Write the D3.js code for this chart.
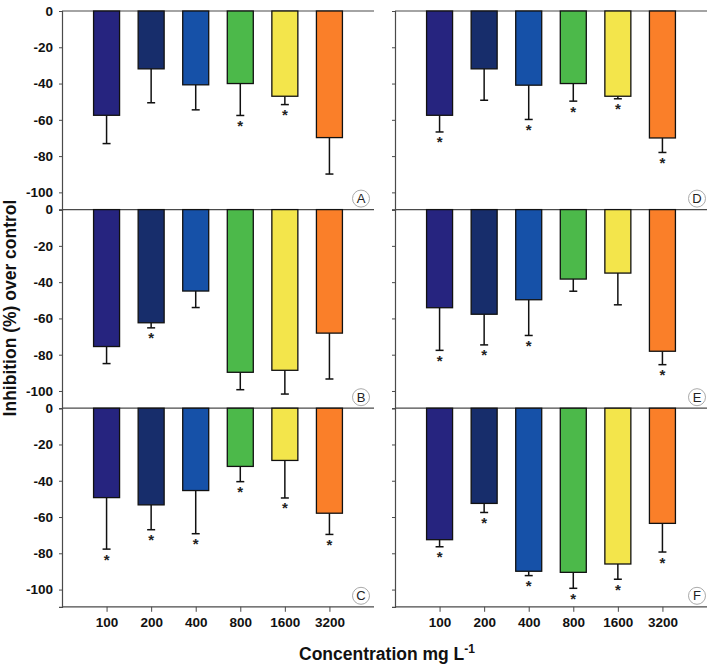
<!DOCTYPE html>
<html><head><meta charset="utf-8">
<script src="https://cdn.jsdelivr.net/npm/d3@7"></script>
<style>
html,body{margin:0;padding:0;background:#fff;}
svg text{font-family:"Liberation Sans",Arial,sans-serif;}
</style></head>
<body>
<svg id="chart" width="714" height="664"></svg>
<script>
const concentrations = ["100","200","400","800","1600","3200"];
const panelLabels = ["A","B","C","D","E","F"];
const barColors = ["#26247f","#172d6b","#1651a8","#4cb94a","#f3e54b","#fa7f29"];
const yTicks = [0,-20,-40,-60,-80,-100];

const meansA = [-57.5,-31.9,-40.7,-40.0,-47.0,-69.8];
const sdA    = [15.6,18.7,13.8,17.6,4.6,20.1];
const starsA = [0,0,0,1,1,0];

const meansB = [-75.5,-62.4,-44.9,-89.7,-88.6,-68.1];
const sdB    = [9.4,2.8,9.1,9.6,13.1,25.3];
const starsB = [0,1,0,0,0,0];

const meansC = [-49.3,-53.3,-45.4,-32.1,-28.8,-57.9];
const sdC    = [28.4,13.7,23.8,8.4,20.7,11.7];
const starsC = [1,1,1,1,1,1];

const meansD = [-57.5,-31.9,-40.9,-40.0,-47.0,-70.0];
const sdD    = [9.2,17.3,18.9,9.7,1.4,8.0];
const starsD = [1,0,1,1,1,1];

const meansE = [-54.1,-57.7,-49.7,-38.3,-35.0,-78.1];
const sdE    = [23.5,16.9,19.7,6.7,17.5,7.4];
const starsE = [1,1,1,0,0,1];

const meansF = [-72.5,-52.5,-89.9,-90.5,-85.9,-63.5];
const sdF    = [3.9,5.0,2.4,8.8,8.4,15.8];
const starsF = [1,1,1,1,1,1];

const panels = [
  {label:"A", col:0, row:0, means:meansA, sd:sdA, stars:starsA},
  {label:"B", col:0, row:1, means:meansB, sd:sdB, stars:starsB},
  {label:"C", col:0, row:2, means:meansC, sd:sdC, stars:starsC},
  {label:"D", col:1, row:0, means:meansD, sd:sdD, stars:starsD},
  {label:"E", col:1, row:1, means:meansE, sd:sdE, stars:starsE},
  {label:"F", col:1, row:2, means:meansF, sd:sdF, stars:starsF}
];

const svg = d3.select("#chart");
const colX = [[62,374],[395,707]];
const top0 = 11, panelH = 198.6;
const lineColor = "#4a4a4a";

panels.forEach(p => {
  const [x0,x1] = colX[p.col];
  const ty = top0 + p.row*panelH;
  const x = d3.scalePoint().domain(["_s"].concat(concentrations).concat(["_e"])).range([x0,x1]);
  const y = d3.scaleLinear().domain([0,-109.5]).range([ty, ty+panelH]);
  const g = svg.append("g");

  // y axis
  const yAxis = d3.axisLeft(y).tickValues(yTicks).tickSize(3).tickPadding(6)
     .tickFormat(p.col===0 ? (v => String(v)) : () => "");
  const ga = g.append("g").attr("transform",`translate(${x0},0)`).call(yAxis);
  ga.select(".domain").attr("stroke",lineColor).attr("stroke-width",1.2);
  ga.selectAll(".tick line").attr("stroke",lineColor);
  ga.selectAll(".tick text").attr("font-size","13.5px").attr("font-weight","bold")
     .attr("fill","#111").style("font-family",'"Liberation Sans",Arial,sans-serif');

  // zero line
  g.append("line").attr("x1",x0).attr("x2",x1).attr("y1",y(0)).attr("y2",y(0))
    .attr("stroke",lineColor).attr("stroke-width",1.2);

  const bw = 26;
  const data = concentrations.map((c,i)=>({c, m:p.means[i], s:p.sd[i], st:p.stars[i], col:barColors[i]}));

  // error bars
  data.forEach(d => {
    const cx = x(d.c);
    const yEnd = y(d.m - d.s);
    g.append("line").attr("x1",cx).attr("x2",cx).attr("y1",y(d.m)).attr("y2",yEnd)
      .attr("stroke","#111").attr("stroke-width",1.5);
    g.append("line").attr("x1",cx-4).attr("x2",cx+4).attr("y1",yEnd).attr("y2",yEnd)
      .attr("stroke","#111").attr("stroke-width",1.5);
    if (d.st) {
      g.append("text").attr("x",cx).attr("y",yEnd+15.5).attr("text-anchor","middle")
        .attr("font-size","15px").attr("font-weight","bold").attr("fill","#222").text("*");
    }
  });

  // bars
  g.selectAll("rect.bar").data(data).enter().append("rect")
    .attr("x", d => x(d.c)-bw/2)
    .attr("y", y(0))
    .attr("width", bw)
    .attr("height", d => y(d.m)-y(0))
    .attr("fill", d => d.col)
    .attr("stroke","#111").attr("stroke-width",1.3);

  // panel letter
  const cxL = p.col===0 ? x1-13 : x1-10;
  const cyL = ty + panelH - 11;
  g.append("circle").attr("cx",cxL).attr("cy",cyL).attr("r",8.5)
    .attr("fill","#fff").attr("stroke","#aaa").attr("stroke-width",1);
  g.append("text").attr("x",cxL).attr("y",cyL+4.5).attr("text-anchor","middle")
    .attr("font-size","13px").attr("fill","#222").text(p.label);

  // bottom x axis
  if (p.row===2) {
    const xAxis = d3.axisBottom(x).tickValues(concentrations).tickSize(5).tickPadding(6);
    const gx = g.append("g").attr("transform",`translate(0,${ty+panelH})`).call(xAxis);
    gx.select(".domain").attr("stroke",lineColor).attr("stroke-width",1.2).attr("d",`M${x0},0H${x1}`);
    gx.selectAll(".tick line").attr("stroke",lineColor);
    gx.selectAll(".tick text").attr("font-size","13.5px").attr("font-weight","bold")
      .attr("fill","#111").style("font-family",'"Liberation Sans",Arial,sans-serif');
  }
});

// axis titles
svg.append("text").attr("transform","translate(16,308) rotate(-90)")
  .attr("text-anchor","middle").attr("font-size","17.5px").attr("font-weight","bold")
  .attr("fill","#111").text("Inhibition (%) over control");

const xt = svg.append("text").attr("x",387).attr("y",660).attr("text-anchor","middle")
  .attr("font-size","17.5px").attr("font-weight","bold").attr("fill","#111");
xt.append("tspan").text("Concentration mg L");
xt.append("tspan").attr("dy","-7").attr("font-size","12px").text("-1");
</script>
</body></html>
